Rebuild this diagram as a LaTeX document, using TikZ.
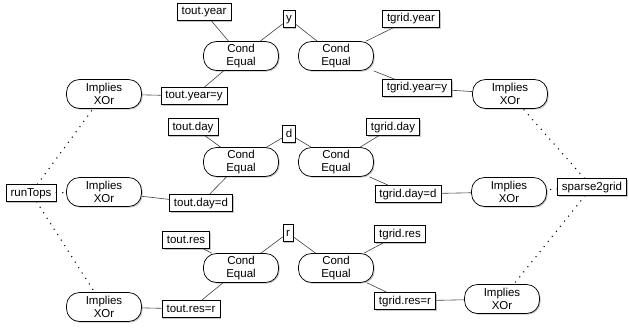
\documentclass[tikz,border=0pt]{standalone}
\usepackage{fontspec}
\setmainfont{Liberation Sans}
\usetikzlibrary{shadows}
\begin{document}
\begin{tikzpicture}[x=1pt,y=-1pt,
  every node/.style={font=\fontsize{11.5}{13.5}\selectfont},
  lbl/.style={draw=black, line width=0.7pt, fill=white, inner xsep=4.5pt, inner ysep=3pt,
    text height=8.5pt, text depth=2.5pt,
    drop shadow={shadow xshift=1.2pt, shadow yshift=-1.2pt, opacity=0.45}},
  op/.style={draw=black, line width=0.7pt, fill=white, rounded corners=13pt,
    minimum width=75pt, minimum height=29pt, inner sep=1pt, align=center,
    drop shadow={shadow xshift=1.2pt, shadow yshift=-1.2pt, opacity=0.45}},
  edge/.style={draw=black!75, line width=0.6pt},
  dot/.style={draw=black, line width=1.5pt, line cap=round, dash pattern=on 0pt off 6.5pt}]
\useasboundingbox (0,0) rectangle (629,329);
% top group
\node[lbl] (ty) at (204,12) {tout.year};
\node[lbl, inner xsep=3pt] (y) at (289,19) {y};
\node[op] (cl1) at (241,56) {Cond\\Equal};
\node[op] (cr1) at (336,56) {Cond\\Equal};
\node[lbl] (gy) at (411,19) {tgrid.year};
\node[lbl] (tye) at (194,96) {tout.year=y};
\node[lbl] (gye) at (417,88) {tgrid.year=y};
\node[op] (il1) at (104,94) {Implies\\XOr};
\node[op] (ir1) at (510,94) {Implies\\XOr};
% middle group
\node[lbl] (td) at (193,127) {tout.day};
\node[lbl, inner xsep=3pt] (d) at (289,134) {d};
\node[op] (cl2) at (241,162) {Cond\\Equal};
\node[op] (cr2) at (336,162) {Cond\\Equal};
\node[lbl] (gd) at (393,127) {tgrid.day};
\node[lbl] (tde) at (201,203) {tout.day=d};
\node[lbl] (gde) at (408,194) {tgrid.day=d};
\node[op] (il2) at (104,192) {Implies\\XOr};
\node[op] (ir2) at (509,192) {Implies\\XOr};
\node[lbl] (rt) at (31,193) {runTops};
\node[lbl] (sg) at (592,187) {sparse2grid};
% bottom group
\node[lbl] (tr) at (186,240) {tout.res};
\node[lbl, inner xsep=3pt] (r) at (288,233) {r};
\node[op] (cl3) at (241,268) {Cond\\Equal};
\node[op] (cr3) at (336,268) {Cond\\Equal};
\node[lbl] (gr) at (400,234) {tgrid.res};
\node[lbl] (tre) at (191,309) {tout.res=r};
\node[lbl] (gre) at (405,301) {tgrid.res=r};
\node[op] (il3) at (104,307) {Implies\\XOr};
\node[op] (ir3) at (502,299) {Implies\\XOr};
% edges
\path[edge] (ty) -- (cl1) (y) -- (cl1) (y) -- (cr1) (gy) -- (cr1)
  (cl1) -- (tye) (cr1) -- (gye) (tye) -- (il1) (gye) -- (ir1);
\path[edge] (td) -- (cl2) (d) -- (cl2) (d) -- (cr2) (gd) -- (cr2)
  (cl2) -- (tde) (cr2) -- (gde) (tde) -- (il2) (gde) -- (ir2);
\path[edge] (tr) -- (cl3) (r) -- (cl3) (r) -- (cr3) (gr) -- (cr3)
  (cl3) -- (tre) (cr3) -- (gre) (tre) -- (il3) (gre) -- (ir3);
\path[dot] (rt) -- (il1) (rt) -- (il2) (rt) -- (il3);
\path[dot] (sg) -- (ir1) (sg) -- (ir2) (sg) -- (ir3);
\end{tikzpicture}
\end{document}
